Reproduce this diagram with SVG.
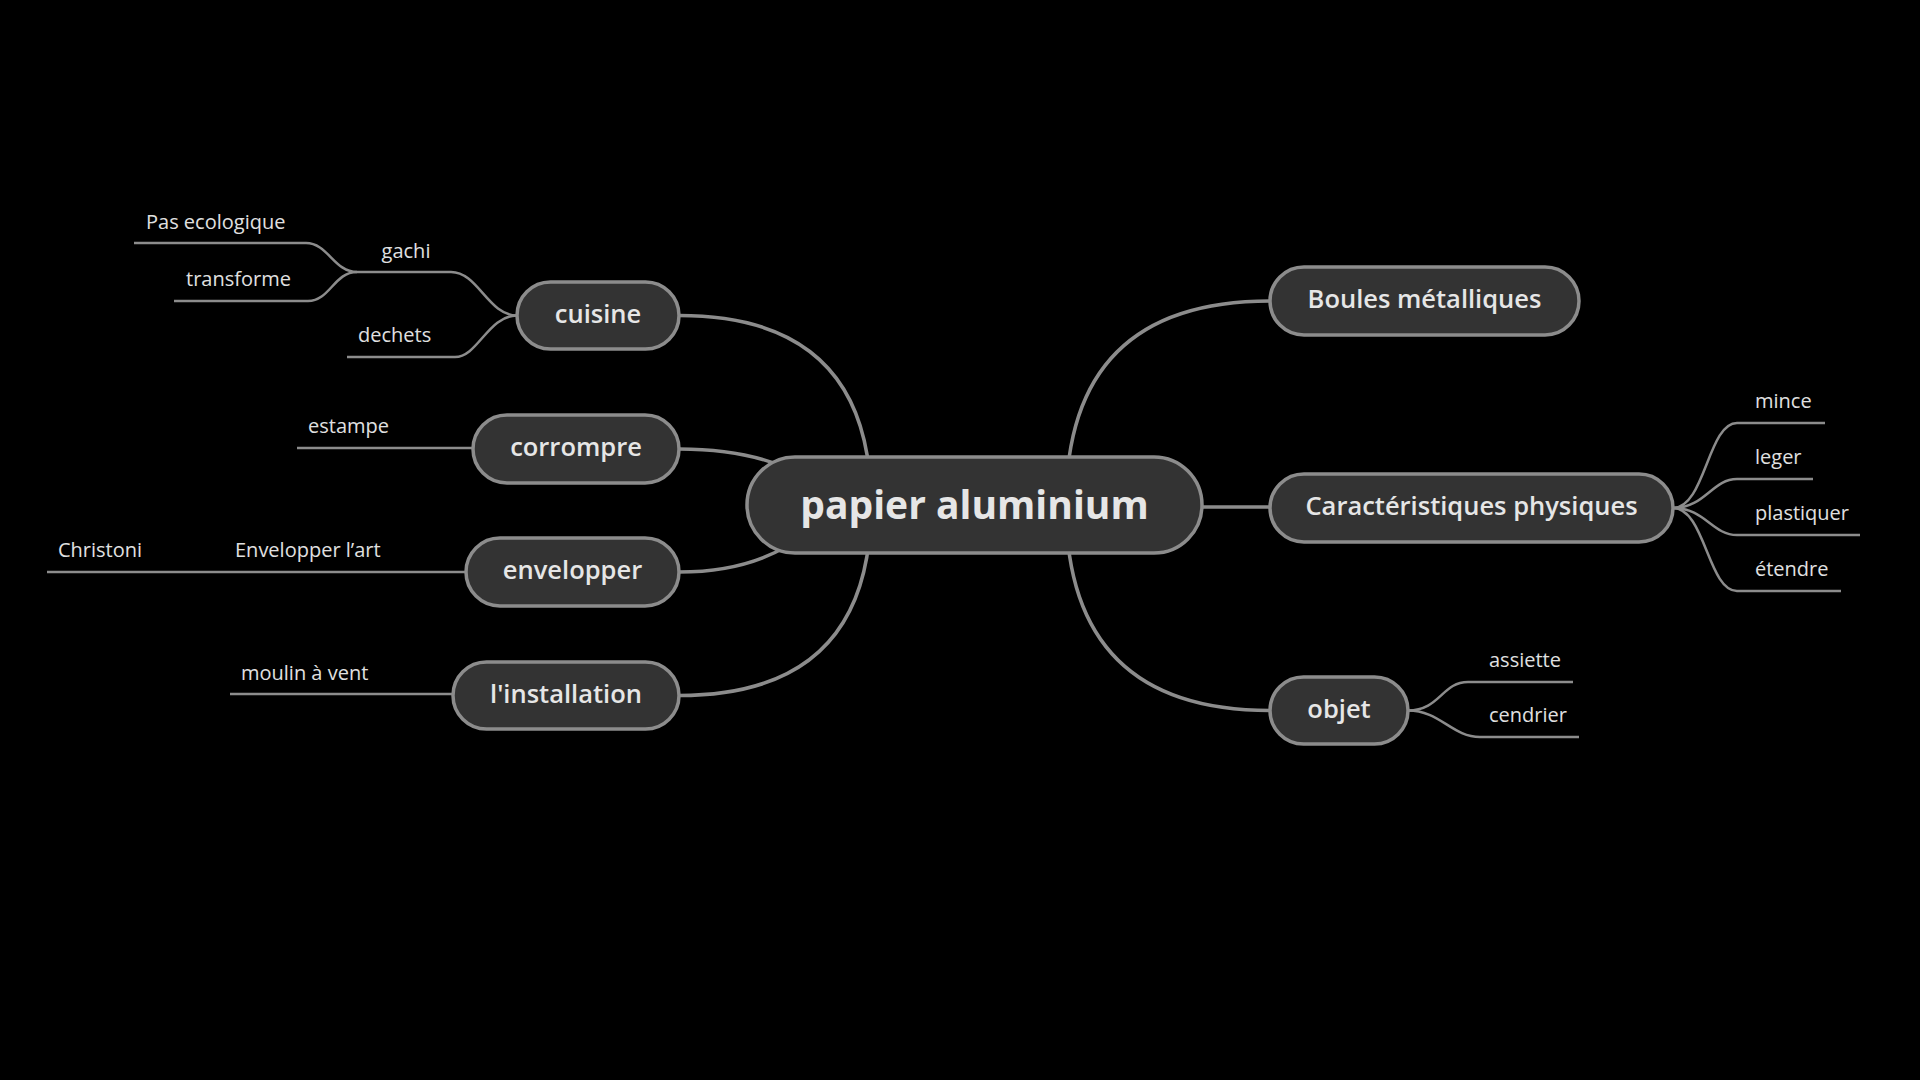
<svg xmlns="http://www.w3.org/2000/svg" width="1920" height="1080" viewBox="0 0 1920 1080">
<style>
.bg{fill:#000}
.node rect{fill:#333;stroke:#8c8c8c;stroke-width:3.5}
.main{fill:none;stroke:#8c8c8c;stroke-width:3.5}
.leaf{fill:none;stroke:#8c8c8c;stroke-width:2.5}
.lbl{font-family:"Open Sans","Noto Sans",sans-serif;font-size:25.5px;font-weight:600;fill:#e6e6e6;text-anchor:middle}
.ctr{font-family:"Open Sans","Noto Sans",sans-serif;font-size:39px;font-weight:700;fill:#e6e6e6;text-anchor:middle}
.sub{font-family:"Open Sans","Noto Sans",sans-serif;font-size:20px;font-weight:400;fill:#e0e0e0}
</style>
<rect class="bg" x="0" y="0" width="1920" height="1080"/>
<g id="connectors">
<path class="main" d="M871,505 Q871,315.5 679,315.5"/>
<path class="main" d="M679,449 Q760,449 810,480"/>
<path class="main" d="M679,572 Q760,572 810,530"/>
<path class="main" d="M871,505 Q871,695.5 679,695.5"/>
<path class="main" d="M1066,505 Q1066,301 1270,301"/>
<path class="main" d="M1150,507 L1270,507"/>
<path class="main" d="M1066,505 Q1066,710.5 1270,710.5"/>
<path class="leaf" d="M517,315.5 C488,315.5 478,272 451,272 L357,272"/>
<path class="leaf" d="M517,315.5 C488,315.5 478,357 455,357 L347,357"/>
<path class="leaf" d="M357,272 C334,272 328,243 306,243 L134,243"/>
<path class="leaf" d="M357,272 C334,272 330,301 308,301 L174,301"/>
<path class="leaf" d="M473,448 L297,448"/>
<path class="leaf" d="M466,572 L47,572"/>
<path class="leaf" d="M453,694 L230,694"/>
<path class="leaf" d="M1673,508 C1705,508 1708,423 1737,423 L1825,423"/>
<path class="leaf" d="M1673,508 C1705,508 1712,479 1737,479 L1813,479"/>
<path class="leaf" d="M1673,508 C1705,508 1712,535 1737,535 L1860,535"/>
<path class="leaf" d="M1673,508 C1705,508 1708,591 1737,591 L1841,591"/>
<path class="leaf" d="M1408,710.5 C1440,710.5 1442,682 1468,682 L1573,682"/>
<path class="leaf" d="M1408,710.5 C1440,710.5 1452,737 1480,737 L1579,737"/>
</g>
<g id="n-center" class="node"><rect x="747" y="457" width="455" height="96" rx="48"/><text class="ctr" x="974.5" y="519">papier aluminium</text></g>
<g id="n-cuisine" class="node"><rect x="517" y="282" width="162" height="67" rx="33.5"/><text class="lbl" x="598" y="322.5">cuisine</text></g>
<g id="n-corrompre" class="node"><rect x="473" y="415" width="206" height="68" rx="34"/><text class="lbl" x="576" y="456">corrompre</text></g>
<g id="n-envelopper" class="node"><rect x="466" y="538" width="213" height="68" rx="34"/><text class="lbl" x="572.5" y="579">envelopper</text></g>
<g id="n-installation" class="node"><rect x="453" y="662" width="226" height="67" rx="33.5"/><text class="lbl" x="566" y="702.5">l'installation</text></g>
<g id="n-boules" class="node"><rect x="1270" y="267" width="309" height="68" rx="34"/><text class="lbl" x="1424.5" y="308">Boules métalliques</text></g>
<g id="n-caract" class="node"><rect x="1270" y="474" width="403" height="68" rx="34"/><text class="lbl" x="1471.5" y="515">Caractéristiques physiques</text></g>
<g id="n-objet" class="node"><rect x="1270" y="677" width="138" height="67" rx="33.5"/><text class="lbl" x="1339" y="717.5">objet</text></g>
<g id="n-gachi"><text class="sub" x="406" y="258" text-anchor="middle">gachi</text></g>
<g id="n-pas"><text class="sub" x="146" y="229">Pas ecologique</text></g>
<g id="n-transforme"><text class="sub" x="186" y="286">transforme</text></g>
<g id="n-dechets"><text class="sub" x="358" y="342">dechets</text></g>
<g id="n-estampe"><text class="sub" x="308" y="433">estampe</text></g>
<g id="n-envart"><text class="sub" x="235" y="557">Envelopper l’art</text></g>
<g id="n-christoni"><text class="sub" x="58" y="557">Christoni</text></g>
<g id="n-moulin"><text class="sub" x="241" y="680">moulin à vent</text></g>
<g id="n-mince"><text class="sub" x="1755" y="408">mince</text></g>
<g id="n-leger"><text class="sub" x="1755" y="464">leger</text></g>
<g id="n-plastiquer"><text class="sub" x="1755" y="520">plastiquer</text></g>
<g id="n-etendre"><text class="sub" x="1755" y="576">étendre</text></g>
<g id="n-assiette"><text class="sub" x="1489" y="667">assiette</text></g>
<g id="n-cendrier"><text class="sub" x="1489" y="722">cendrier</text></g>
</svg>
